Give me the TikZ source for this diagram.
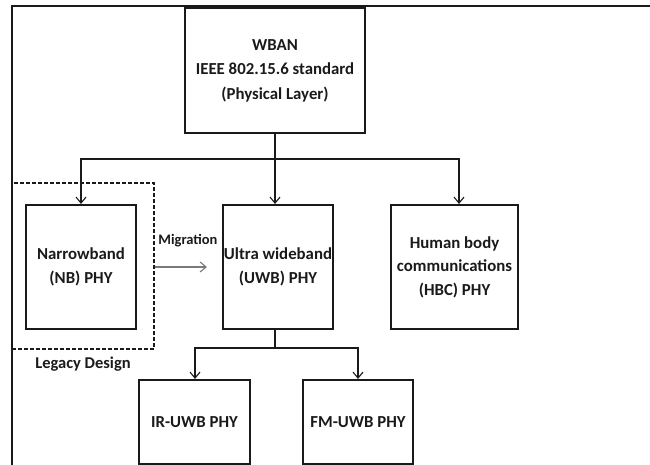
\documentclass[tikz,border=0pt]{standalone}
\usepackage{fontspec}
\setmainfont{Carlito}
\usetikzlibrary{arrows.meta, positioning}
\definecolor{linedark}{HTML}{1A1A1A}
\definecolor{miggray}{HTML}{7A7A7A}
\tikzset{
  phy/.style={draw=linedark, line width=2.1pt, align=center, inner sep=0pt,
              font=\fontsize{16.8}{24.5}\selectfont\bfseries, text=linedark},
  legacybox/.style={draw=linedark, line width=1.4pt, dash pattern=on 4pt off 2pt,
                    inner sep=0pt, minimum width=142pt, minimum height=166pt},
  lbl/.style={font=\fontsize{16.5}{20}\selectfont\bfseries, text=linedark, inner sep=0pt},
  flow/.style={-{Straight Barb[length=6pt,width=10pt]}, line width=1.1pt, draw=linedark},
  migflow/.style={-{Straight Barb[length=6pt,width=10pt]}, line width=1.1pt, draw=miggray},
  frameline/.style={draw=linedark, line width=2.2pt},
}
\begin{document}
\begin{tikzpicture}[x=1pt,y=-1pt]
  \useasboundingbox (0,0) rectangle (650,465);
  \draw[frameline] (650,6) -- (12,6) -- (12,465);
  % standard
  \node[phy, minimum width=180pt, minimum height=125pt] (wban) at (275,70.5)
    {WBAN\\IEEE 802.15.6 standard\\(Physical Layer)};
  % physical layers
  \node[phy, minimum width=110pt, minimum height=124pt] (nb) at (81,267) {Narrowband\\(NB) PHY};
  \node[phy, minimum width=110pt, minimum height=124pt] (uwb) at (278,267) {Ultra wideband\\(UWB) PHY};
  \node[phy, minimum width=127pt, minimum height=124pt, font=\fontsize{16.8}{23.5}\selectfont\bfseries] (hbc) at (454.5,267)
    {Human body\\communications\\(HBC) PHY};
  \node[legacybox] (legacy) at (83,266) {};
  \node[lbl, below=7pt of legacy] (legacytxt) {Legacy Design};
  % UWB variants
  \node[phy, minimum width=111pt, minimum height=84pt] (ir) at (194.5,422) {IR-UWB PHY};
  \node[phy, minimum width=110pt, minimum height=84pt] (fm) at (358,422) {FM-UWB PHY};
  % connectors
  \coordinate (brL) at (81,159);
  \coordinate (brR) at (459,159);
  \draw[flow] (wban.south) -- (wban.south |- uwb.north);
  \draw[flow] (brL -| wban.south) -- (brL) -- (brL |- nb.north);
  \draw[flow] (brL -| wban.south) -- (brR) -- (brR |- hbc.north);
  \coordinate (subL) at (195,348);
  \coordinate (subR) at (358,348);
  \draw[linedark, line width=1.1pt] (uwb.south -| wban.south) -- (subL -| wban.south);
  \draw[flow] (subL -| wban.south) -- (subL) -- (subL |- ir.north);
  \draw[flow] (subL -| wban.south) -- (subR) -- (subR |- fm.north);
  \draw[migflow, shorten >=15pt] (legacy.east |- uwb.west) -- (uwb.west);
  \node[font=\fontsize{14.5}{16}\selectfont\bfseries, text=linedark] (mig) at (188,241) {Migration};
\end{tikzpicture}
\end{document}
